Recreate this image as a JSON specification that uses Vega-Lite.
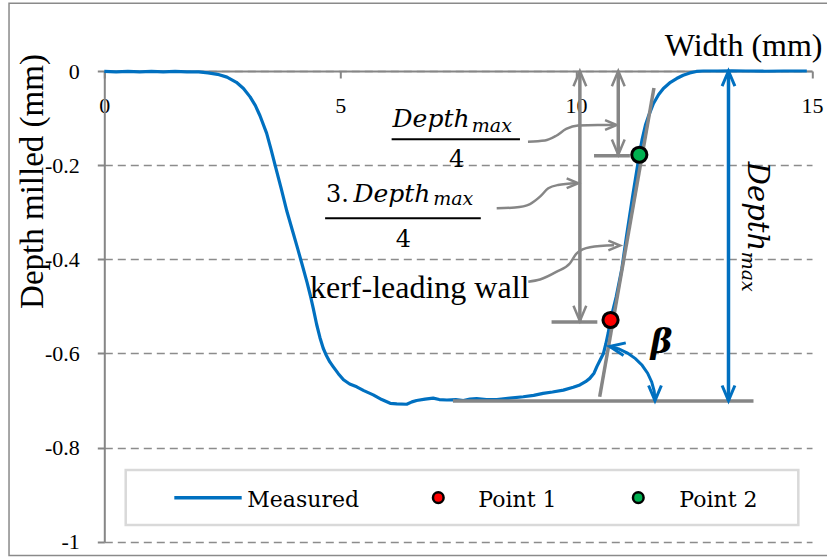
{
  "$schema": "https://vega.github.io/schema/vega-lite/v6.json",
  "width": 707.7,
  "height": 470.7,
  "autosize": {"type": "none"},
  "padding": {"left": 104.3, "top": 71, "right": 15, "bottom": 16.3},
  "background": "white",
  "config": {"view": {"stroke": null}},
  "datasets": {
    "frame": [{"x": -2.0195, "x2": 15.35, "y": 0.1438, "y2": -1.0293}],
    "legendBox": [{"x": 0.4536, "x2": 14.71, "y": -0.8477, "y2": -0.9645}],
    "curve": [
      {"x": 0, "y": -0.001}, {"x": 0.25, "y": -0.002}, {"x": 0.5, "y": -0.001}, {"x": 0.75, "y": -0.002},
      {"x": 1.0, "y": -0.001}, {"x": 1.25, "y": -0.002}, {"x": 1.5, "y": -0.001}, {"x": 1.75, "y": -0.002},
      {"x": 2.0, "y": -0.002}, {"x": 2.2, "y": -0.004}, {"x": 2.4, "y": -0.007}, {"x": 2.6, "y": -0.013},
      {"x": 2.8, "y": -0.024}, {"x": 2.95, "y": -0.037}, {"x": 3.09, "y": -0.055}, {"x": 3.2, "y": -0.073},
      {"x": 3.3, "y": -0.095}, {"x": 3.44, "y": -0.132}, {"x": 3.53, "y": -0.165}, {"x": 3.62, "y": -0.2},
      {"x": 3.75, "y": -0.25}, {"x": 3.87, "y": -0.298}, {"x": 4.0, "y": -0.343}, {"x": 4.1, "y": -0.378},
      {"x": 4.19, "y": -0.41}, {"x": 4.3, "y": -0.45}, {"x": 4.37, "y": -0.478}, {"x": 4.43, "y": -0.505},
      {"x": 4.5, "y": -0.538}, {"x": 4.57, "y": -0.566}, {"x": 4.64, "y": -0.589}, {"x": 4.71, "y": -0.605},
      {"x": 4.78, "y": -0.618}, {"x": 4.85, "y": -0.628}, {"x": 4.96, "y": -0.643},
      {"x": 5.07, "y": -0.656}, {"x": 5.2, "y": -0.665}, {"x": 5.35, "y": -0.671}, {"x": 5.5, "y": -0.679},
      {"x": 5.7, "y": -0.688}, {"x": 5.88, "y": -0.698}, {"x": 6.06, "y": -0.706}, {"x": 6.2, "y": -0.707},
      {"x": 6.41, "y": -0.708}, {"x": 6.52, "y": -0.703}, {"x": 6.62, "y": -0.7}, {"x": 6.8, "y": -0.697},
      {"x": 6.97, "y": -0.695}, {"x": 7.1, "y": -0.698}, {"x": 7.26, "y": -0.699}, {"x": 7.45, "y": -0.698},
      {"x": 7.61, "y": -0.7}, {"x": 7.75, "y": -0.697}, {"x": 7.89, "y": -0.696}, {"x": 8.1, "y": -0.698},
      {"x": 8.32, "y": -0.698}, {"x": 8.6, "y": -0.695}, {"x": 8.88, "y": -0.692}, {"x": 9.1, "y": -0.689},
      {"x": 9.3, "y": -0.685}, {"x": 9.5, "y": -0.682}, {"x": 9.73, "y": -0.678}, {"x": 9.94, "y": -0.672},
      {"x": 10.08, "y": -0.667}, {"x": 10.2, "y": -0.66}, {"x": 10.29, "y": -0.653}, {"x": 10.38, "y": -0.642},
      {"x": 10.44, "y": -0.628}, {"x": 10.51, "y": -0.614}, {"x": 10.58, "y": -0.6}, {"x": 10.63, "y": -0.58},
      {"x": 10.68, "y": -0.557}, {"x": 10.73, "y": -0.529}, {"x": 10.85, "y": -0.48}, {"x": 10.97, "y": -0.42},
      {"x": 11.07, "y": -0.35}, {"x": 11.2, "y": -0.265}, {"x": 11.34, "y": -0.178}, {"x": 11.4, "y": -0.145},
      {"x": 11.47, "y": -0.115}, {"x": 11.53, "y": -0.097}, {"x": 11.64, "y": -0.069}, {"x": 11.75, "y": -0.05},
      {"x": 11.85, "y": -0.037}, {"x": 12.0, "y": -0.024}, {"x": 12.13, "y": -0.016}, {"x": 12.27, "y": -0.009},
      {"x": 12.41, "y": -0.004}, {"x": 12.55, "y": -0.001}, {"x": 12.7, "y": 0}, {"x": 13.0, "y": 0},
      {"x": 13.3, "y": 0.0005}, {"x": 13.6, "y": 0}, {"x": 14.0, "y": -0.0005}, {"x": 14.4, "y": 0},
      {"x": 14.89, "y": 0}
    ],
    "points": [
      {"x": 10.73, "y": -0.529, "series": "Point 1"},
      {"x": 11.34, "y": -0.178, "series": "Point 2"}
    ],
    "legendPoints": [
      {"x": 7.079, "y": -0.9065, "series": "Point 1"},
      {"x": 11.318, "y": -0.9065, "series": "Point 2"}
    ],
    "graySegs": [
      {"x": 10.5, "y": -0.692, "x2": 11.65, "y2": -0.036},
      {"x": 7.39, "y": -0.701, "x2": 13.76, "y2": -0.701},
      {"x": 10.08, "y": 0, "x2": 10.08, "y2": -0.531},
      {"x": 9.48, "y": -0.533, "x2": 10.45, "y2": -0.533},
      {"x": 10.894, "y": 0, "x2": 10.894, "y2": -0.178},
      {"x": 10.38, "y": -0.18, "x2": 11.14, "y2": -0.18}
    ],
    "blueSegs": [
      {"x": 13.23, "y": 0, "x2": 13.23, "y2": -0.7004},
      {"x": 1.484, "y": -0.9065, "x2": 2.912, "y2": -0.9065}
    ],
    "fracBars": [
      {"x": 6.09, "y": -0.145, "x2": 8.81, "y2": -0.145},
      {"x": 4.68, "y": -0.313, "x2": 7.98, "y2": -0.313}
    ],
    "arc": [
      {"x": 10.71, "y": -0.5853}, {"x": 10.905, "y": -0.5906}, {"x": 11.089, "y": -0.5993},
      {"x": 11.257, "y": -0.611}, {"x": 11.399, "y": -0.6252}, {"x": 11.516, "y": -0.642},
      {"x": 11.602, "y": -0.6605}, {"x": 11.655, "y": -0.68}, {"x": 11.672, "y": -0.7004}
    ],
    "curls": [
      {"id": "a", "x": 8.98, "y": -0.1502}, {"id": "a", "x": 9.34, "y": -0.1477}, {"id": "a", "x": 9.57, "y": -0.1381},
      {"id": "a", "x": 9.79, "y": -0.1232}, {"id": "a", "x": 10.04, "y": -0.1158}, {"id": "a", "x": 10.46, "y": -0.1147},
      {"id": "a", "x": 10.8, "y": -0.1147},
      {"id": "b", "x": 8.317, "y": -0.2917}, {"id": "b", "x": 8.705, "y": -0.29}, {"id": "b", "x": 9.023, "y": -0.2826},
      {"id": "b", "x": 9.235, "y": -0.267}, {"id": "b", "x": 9.411, "y": -0.2492}, {"id": "b", "x": 9.617, "y": -0.2422},
      {"id": "b", "x": 9.998, "y": -0.2386},
      {"id": "c", "x": 8.987, "y": -0.4476}, {"id": "c", "x": 9.235, "y": -0.443}, {"id": "c", "x": 9.589, "y": -0.4264},
      {"id": "c", "x": 9.871, "y": -0.4085}, {"id": "c", "x": 10.013, "y": -0.3873}, {"id": "c", "x": 10.295, "y": -0.3745},
      {"id": "c", "x": 10.803, "y": -0.3703}
    ],
    "grayHeadsUp": [{"x": 10.08, "y": -0.017}, {"x": 10.894, "y": -0.017}],
    "grayHeadsDown": [{"x": 10.08, "y": -0.514}, {"x": 10.894, "y": -0.161}],
    "blueHeadsUp": [{"x": 13.23, "y": -0.017}],
    "blueHeadsDown": [{"x": 13.23, "y": -0.6834}, {"x": 11.672, "y": -0.6834}],
    "blueHeadsLeft": [{"x": 10.879, "y": -0.5883}],
    "curlHeads": [{"x": 10.731, "y": -0.1147}, {"x": 9.917, "y": -0.2386}, {"x": 10.801, "y": -0.3707}],
    "wallLabel": [{"x": 4.36, "y": -0.483, "t": "kerf-leading wall"}],
    "betaLabel": [{"x": 11.81, "y": -0.6, "t": "β"}],
    "mathDepth": [{"x": 6.11, "y": -0.118, "t": "Depth"}, {"x": 5.28, "y": -0.278, "t": "Depth"}],
    "mathSub": [{"x": 7.79, "y": -0.129, "t": "max"}, {"x": 6.97, "y": -0.285, "t": "max"}],
    "mathUpright": [
      {"x": 4.7, "y": -0.278, "t": "3."},
      {"x": 7.308, "y": -0.205, "t": "4"},
      {"x": 6.178, "y": -0.373, "t": "4"}
    ],
    "rotDepth": [{"x": 13.65, "y": -0.193, "t": "Depth"}],
    "rotSub": [{"x": 13.51, "y": -0.384, "t": "max"}],
    "legendText": [
      {"x": 3.031, "y": -0.9256, "t": "Measured"},
      {"x": 7.927, "y": -0.9256, "t": "Point 1"},
      {"x": 12.187, "y": -0.9256, "t": "Point 2"}
    ]
  },
  "encoding": {
    "x": {
      "field": "x",
      "type": "quantitative",
      "scale": {"domain": [0, 15], "nice": false, "zero": false},
      "axis": {
        "orient": "bottom",
        "offset": -470.7,
        "values": [0, 5, 10, 15],
        "grid": false,
        "title": "Width (mm)",
        "titleFont": "Liberation Serif",
        "titleFontSize": 32,
        "titleFontWeight": "normal",
        "titleColor": "black",
        "titleX": 717.7,
        "titleY": -16,
        "titleAlign": "right",
        "titleBaseline": "alphabetic",
        "labelFont": "Liberation Serif",
        "labelFontSize": 22,
        "labelColor": "black",
        "labelBaseline": "top",
        "labelPadding": 17.6,
        "labelFlush": false,
        "labelOverlap": false,
        "labelBound": false,
        "tickSize": 7,
        "tickWidth": 2,
        "tickColor": "#868686",
        "domainColor": "#868686",
        "domainWidth": 2
      }
    },
    "y": {
      "field": "y",
      "type": "quantitative",
      "scale": {"domain": [-1, 0], "nice": false, "zero": false},
      "axis": {
        "orient": "left",
        "values": [0, -0.2, -0.4, -0.6, -0.8, -1],
        "labelExpr": "replace(format(datum.value, '~g'), '\u2212', '-')",
        "title": "Depth milled (mm)",
        "titleFont": "Liberation Serif",
        "titleFontSize": 33,
        "titleFontWeight": "normal",
        "titleColor": "black",
        "titleX": -62.3,
        "titleY": 110,
        "titleAngle": 270,
        "titleAlign": "center",
        "titleBaseline": "alphabetic",
        "labelFont": "Liberation Serif",
        "labelFontSize": 22,
        "labelColor": "black",
        "labelPadding": 18,
        "labelFlush": false,
        "labelOverlap": false,
        "labelBound": false,
        "tickSize": 7,
        "tickWidth": 2,
        "tickColor": "#868686",
        "domainColor": "#868686",
        "domainWidth": 2,
        "grid": true,
        "gridColor": "#8c8c8c",
        "gridDash": [8, 5],
        "gridWidth": 1.5
      }
    }
  },
  "layer": [
    {
      "data": {"name": "frame"},
      "mark": {"type": "rect", "fill": null, "fillOpacity": 0, "stroke": "#8a8a8a", "strokeWidth": 1.5},
      "encoding": {"x2": {"field": "x2"}, "y2": {"field": "y2"}}
    },
    {
      "data": {"name": "legendBox"},
      "mark": {"type": "rect", "fill": "white", "stroke": "#d9d9d9", "strokeWidth": 2.5},
      "encoding": {"x2": {"field": "x2"}, "y2": {"field": "y2"}}
    },
    {
      "data": {"name": "curve"},
      "mark": {"type": "line", "color": "#0070C0", "strokeWidth": 3.2, "strokeJoin": "round"}
    },
    {
      "data": {"name": "graySegs"},
      "mark": {"type": "rule", "color": "#868686", "strokeWidth": 3.5},
      "encoding": {"x2": {"field": "x2"}, "y2": {"field": "y2"}}
    },
    {
      "data": {"name": "blueSegs"},
      "mark": {"type": "rule", "color": "#0070C0", "strokeWidth": 3.5},
      "encoding": {"x2": {"field": "x2"}, "y2": {"field": "y2"}}
    },
    {
      "data": {"name": "fracBars"},
      "mark": {"type": "rule", "color": "black", "strokeWidth": 2},
      "encoding": {"x2": {"field": "x2"}, "y2": {"field": "y2"}}
    },
    {
      "data": {"name": "arc"},
      "mark": {"type": "line", "color": "#0070C0", "strokeWidth": 3}
    },
    {
      "data": {"name": "curls"},
      "mark": {"type": "line", "color": "#868686", "strokeWidth": 2.5, "interpolate": "monotone"},
      "encoding": {"detail": {"field": "id"}}
    },
    {
      "data": {"name": "grayHeadsUp"},
      "mark": {"type": "point", "shape": "M-0.8,0.9L0,-1L0.8,0.9", "filled": false, "stroke": "#868686", "strokeWidth": 2.5, "size": 256, "angle": 0, "opacity": 1}
    },
    {
      "data": {"name": "grayHeadsDown"},
      "mark": {"type": "point", "shape": "M-0.8,0.9L0,-1L0.8,0.9", "filled": false, "stroke": "#868686", "strokeWidth": 2.5, "size": 256, "angle": 180, "opacity": 1}
    },
    {
      "data": {"name": "blueHeadsUp"},
      "mark": {"type": "point", "shape": "M-0.8,0.9L0,-1L0.8,0.9", "filled": false, "stroke": "#0070C0", "strokeWidth": 3, "size": 256, "angle": 0, "opacity": 1}
    },
    {
      "data": {"name": "blueHeadsDown"},
      "mark": {"type": "point", "shape": "M-0.8,0.9L0,-1L0.8,0.9", "filled": false, "stroke": "#0070C0", "strokeWidth": 3, "size": 256, "angle": 180, "opacity": 1}
    },
    {
      "data": {"name": "blueHeadsLeft"},
      "mark": {"type": "point", "shape": "M-0.8,0.9L0,-1L0.8,0.9", "filled": false, "stroke": "#0070C0", "strokeWidth": 3, "size": 256, "angle": 280, "opacity": 1}
    },
    {
      "data": {"name": "curlHeads"},
      "mark": {"type": "point", "shape": "M-0.8,0.9L0,-1L0.8,0.9", "filled": false, "stroke": "#868686", "strokeWidth": 2.5, "size": 150, "angle": 90, "opacity": 1}
    },
    {
      "data": {"name": "points"},
      "mark": {"type": "point", "shape": "circle", "filled": true, "stroke": "black", "strokeWidth": 3, "size": 230, "opacity": 1},
      "encoding": {
        "color": {"field": "series", "type": "nominal", "scale": {"domain": ["Point 1", "Point 2"], "range": ["#FF0000", "#00B050"]}, "legend": null}
      }
    },
    {
      "data": {"name": "legendPoints"},
      "mark": {"type": "point", "shape": "circle", "filled": true, "stroke": "black", "strokeWidth": 2.5, "size": 113, "opacity": 1},
      "encoding": {
        "color": {"field": "series", "type": "nominal", "scale": {"domain": ["Point 1", "Point 2"], "range": ["#FF0000", "#00B050"]}, "legend": null}
      }
    },
    {
      "data": {"name": "wallLabel"},
      "mark": {"type": "text", "font": "Liberation Serif", "fontSize": 32, "color": "black", "align": "left", "baseline": "alphabetic"},
      "encoding": {"text": {"field": "t"}}
    },
    {
      "data": {"name": "betaLabel"},
      "mark": {"type": "text", "font": "DejaVu Serif", "fontSize": 33, "fontWeight": "bold", "fontStyle": "italic", "color": "black", "align": "center", "baseline": "alphabetic"},
      "encoding": {"text": {"field": "t"}}
    },
    {
      "data": {"name": "mathDepth"},
      "mark": {"type": "text", "font": "DejaVu Serif", "fontSize": 25, "fontStyle": "italic", "color": "black", "align": "left", "baseline": "alphabetic"},
      "encoding": {"text": {"field": "t"}}
    },
    {
      "data": {"name": "mathSub"},
      "mark": {"type": "text", "font": "DejaVu Serif", "fontSize": 19, "fontStyle": "italic", "color": "black", "align": "left", "baseline": "alphabetic"},
      "encoding": {"text": {"field": "t"}}
    },
    {
      "data": {"name": "mathUpright"},
      "mark": {"type": "text", "font": "DejaVu Serif", "fontSize": 24, "color": "black", "align": "left", "baseline": "alphabetic"},
      "encoding": {"text": {"field": "t"}}
    },
    {
      "data": {"name": "rotDepth"},
      "mark": {"type": "text", "font": "DejaVu Serif", "fontSize": 29, "fontStyle": "italic", "color": "black", "align": "left", "baseline": "alphabetic", "angle": 90},
      "encoding": {"text": {"field": "t"}}
    },
    {
      "data": {"name": "rotSub"},
      "mark": {"type": "text", "font": "DejaVu Serif", "fontSize": 19, "fontStyle": "italic", "color": "black", "align": "left", "baseline": "alphabetic", "angle": 90},
      "encoding": {"text": {"field": "t"}}
    },
    {
      "data": {"name": "legendText"},
      "mark": {"type": "text", "font": "DejaVu Serif", "fontSize": 22, "color": "black", "align": "left", "baseline": "alphabetic"},
      "encoding": {"text": {"field": "t"}}
    }
  ]
}
